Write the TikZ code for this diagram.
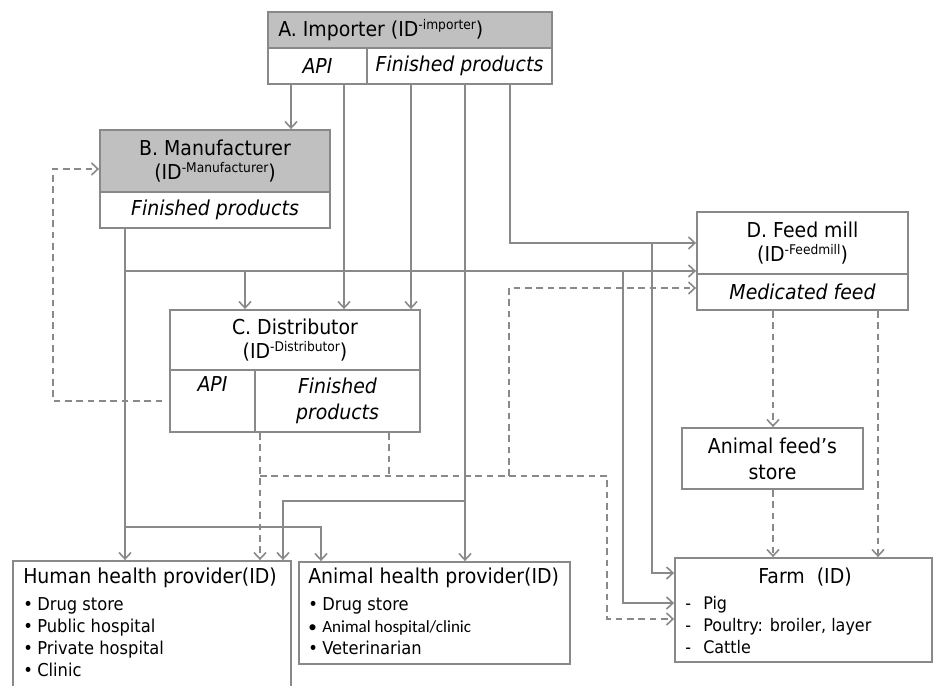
\documentclass[tikz,border=0pt]{standalone}
\usepackage{fontspec}
\setmainfont{DejaVu Sans}[FakeStretch=0.92]
\newfontfamily\calib{Carlito}
\usetikzlibrary{arrows.meta,calc}
\definecolor{lc}{RGB}{137,137,137}
\definecolor{hdr}{RGB}{192,192,192}
\newcommand\supid[1]{\raisebox{0.32em}{\fontsize{10}{10}\selectfont #1}}
\newcommand\bul{\makebox[10.5pt][l]{\textbullet}}
\newcommand\dsh{\makebox[13.5pt][l]{-}}
\begin{document}
\begin{tikzpicture}[x=0.75pt,y=-0.75pt,
  box/.style={draw=lc, line width=1.4pt, fill=white, inner sep=0pt, align=center, font=\fontsize{15.4}{18}\selectfont},
  hbox/.style={box, fill=hdr},
  sub/.style={box, font=\fontsize{15.4}{19.5}\selectfont\itshape},
  txt/.style={inner sep=0pt, font=\fontsize{15.4}{18}\selectfont},
  lst/.style={inner sep=0pt, align=left, anchor=north west, font=\fontsize{13.3}{16.5}\selectfont},
  arr/.style={draw=lc, line width=1.4pt, -{Straight Barb[length=4.8pt,width=9pt,line width=1.2pt]}},
  dln/.style={draw=lc, line width=1.4pt, dash pattern=on 5pt off 3.5pt},
  darr/.style={arr, dash pattern=on 5pt off 3.5pt}
]
\fill[white] (0,0) rectangle (934,685);
\useasboundingbox (0,0) rectangle (934,685);

% A
\node[hbox, minimum width=213pt, minimum height=27pt] (Ah) at (410,30) {};
\node[txt, anchor=west] (At) at (278,30) {A. Importer (ID\supid{-importer})};
\node[sub, minimum width=74.25pt, minimum height=27pt] (Aapi) at (317.5,66) {API};
\node[sub, minimum width=138.75pt, minimum height=27pt] (Afp) at (459.5,66) {Finished products};
% B
\node[hbox, minimum width=172.5pt, minimum height=46.5pt] (Bh) at (215,161) {B. Manufacturer\\(ID\supid{-Manufacturer})};
\node[sub, minimum width=172.5pt, minimum height=27pt] (Bfp) at (215,210) {Finished products};
% C
\node[box, minimum width=187.5pt, minimum height=45pt] (Ch) at (295,340) {C. Distributor\\(ID\supid{-Distributor})};
\node[sub, minimum width=63.75pt, minimum height=46.5pt] (Capi) at (212.5,401) {API\\\strut};
\node[sub, minimum width=123.75pt, minimum height=46.5pt] (Cfp) at (337.5,401) {Finished\\products};
% D
\node[box, minimum width=158.25pt, minimum height=46.5pt] (Dh) at (802.5,243) {D. Feed mill\\(ID\supid{-Feedmill})};
\node[sub, minimum width=158.25pt, minimum height=27pt] (Dfp) at (802.5,292) {Medicated feed};
% Store
\node[box, minimum width=135.75pt, minimum height=45.75pt, font=\fontsize{15.4}{19.5}\selectfont] (Store) at (772.5,458.5) {Animal feed’s\\store};
% Farm
\node[box, minimum width=192.75pt, minimum height=78pt] (Farm) at (803.5,610) {};
\node[txt] (FarmT) at (805,577) {Farm\ \ (ID)};
\node[lst, font=\fontsize{13}{16.5}\selectfont] (FarmL) at (685,596) {\dsh Pig\\\dsh Poultry: broiler, layer\\\dsh Cattle};
% Human
\node[box, minimum width=208.5pt, minimum height=96.75pt] (Hum) at (152,625.5) {};
\node[txt, anchor=west] (HumT) at (23,578) {Human health provider(ID)};
\node[lst] (HumL) at (23,597) {\bul Drug store\\\bul Public hospital\\\bul Private hospital\\\bul Clinic};
% Animal
\node[box, minimum width=203.25pt, minimum height=76.5pt] (Ani) at (434.5,613) {};
\node[txt, anchor=west] (AniT) at (308,578) {Animal health provider(ID)};
\node[lst] (AniL) at (308,597) {\bul Drug store\\{\calib\fontsize{12.8}{16.5}\selectfont\bul Animal hospital/clinic}\\\bul Veterinarian};

% junctions
\coordinate (j1) at (652,243);
\coordinate (j2) at (125,271);
\coordinate (j3) at (245,271);
\coordinate (j4) at (623,271);
\coordinate (j5) at (125,527);
\coordinate (j6) at (465,501);
\coordinate (j7) at (260,476);
\coordinate (j8) at (389,476);
\coordinate (j9) at (509,476);

% solid connectors
\draw[arr] (Aapi.south -| 291,0) -- (Bh.north -| 291,0);
\draw[arr] (Aapi.south -| 344,0) -- (Ch.north -| 344,0);
\draw[arr] (Afp.south -| 411,0) -- (Ch.north -| 411,0);
\draw[arr] (Afp.south -| j6) -- (Ani.north -| j6);
\draw[arr] (Afp.south -| 510,0) |- (Dh.west |- j1);
\draw[arr] (j1) |- (Farm.west |- 0,573);
\draw[arr] (Bfp.south -| j2) -- (Hum.north -| j2);
\draw[arr] (j2) -- (Dh.west |- j2);
\draw[arr] (j3) -- (Ch.north -| j3);
\draw[arr] (j4) |- (Farm.west |- 0,603);
\draw[arr] (j5) -| (Ani.north -| 321,0);
\draw[arr] (j6) -| (Hum.north -| 283,0);

% dashed connectors
\draw[darr, shorten <=5pt] (Capi.west) -| (53,169) -- (Bh.west |- 0,169);
\draw[darr] (Cfp.south -| j7) -- (Hum.north -| j7);
\draw[dln] (Cfp.south -| j8) -- (j8);
\draw[darr] (j7) -| (607,619) -- (Farm.west |- 0,619);
\draw[darr] (j9) |- (Dfp.west |- 0,288);
\draw[darr] (Dfp.south -| 773,0) -- (Store.north -| 773,0);
\draw[darr] (Dfp.south -| 878,0) -- (Farm.north -| 878,0);
\draw[darr] (Store.south -| 773,0) -- (Farm.north -| 773,0);
\end{tikzpicture}
\end{document}
